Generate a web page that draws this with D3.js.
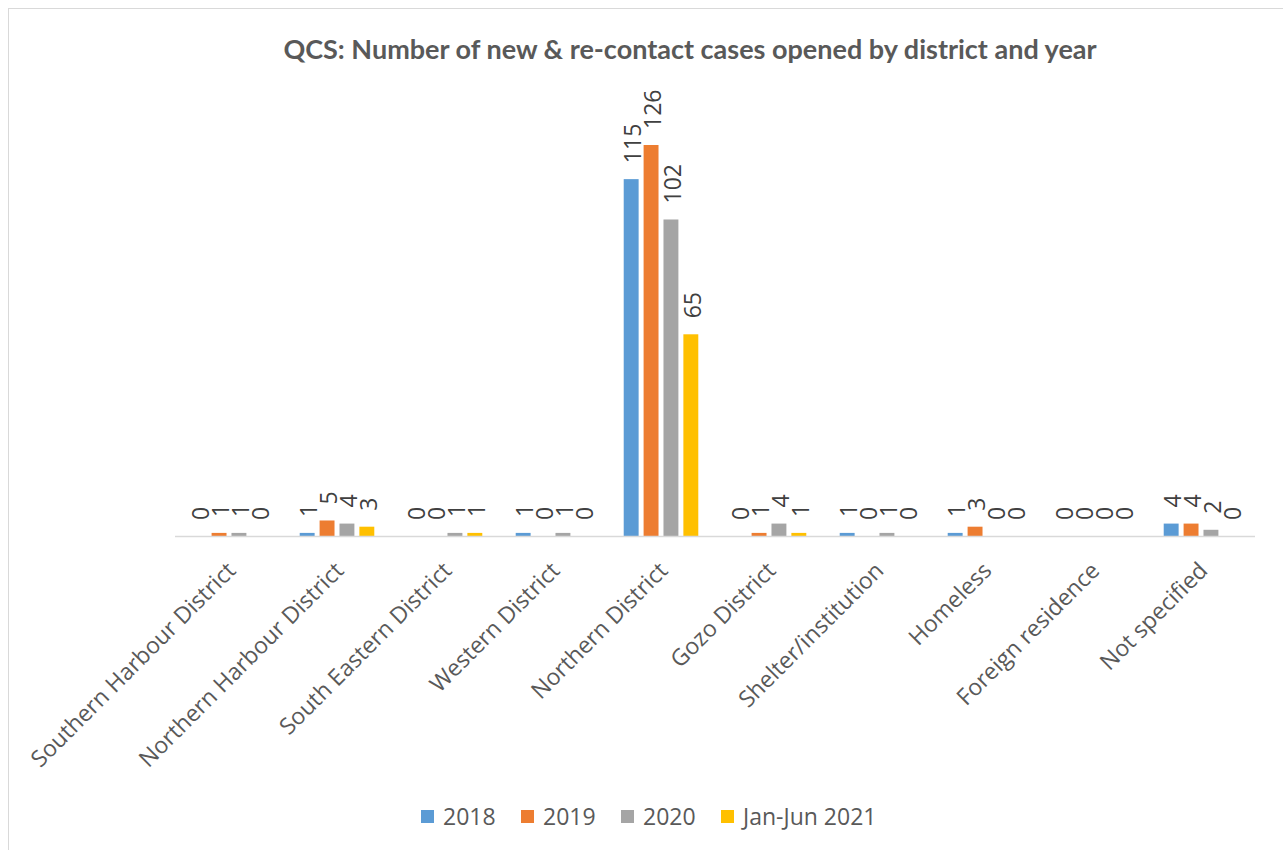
<!DOCTYPE html>
<html><head><meta charset="utf-8">
<script src="https://cdn.jsdelivr.net/npm/d3@7"></script>
<style>body{margin:0;background:#fff}svg{display:block}</style>
</head><body>
<script>
const categories = ["Southern Harbour District","Northern Harbour District","South Eastern District","Western District","Northern District","Gozo District","Shelter/institution","Homeless","Foreign residence","Not specified"];
const seriesNames = ["2018","2019","2020","Jan-Jun 2021"];
const v2018 = [0,1,0,1,115,0,1,1,0,4];
const v2019 = [1,5,0,0,126,1,0,3,0,4];
const v2020 = [1,4,1,1,102,4,1,0,0,2];
const v2021 = [0,3,1,0,65,1,0,0,0,0];
const colors = ["#5b9bd5","#ed7d31","#a5a5a5","#ffc000"];
const series = [v2018,v2019,v2020,v2021];

const W=1283,H=850;
const svg=d3.select("body").append("svg").attr("width",W).attr("height",H);
svg.append("rect").attr("x",8.5).attr("y",8.5).attr("width",W+20).attr("height",H).attr("fill","#fff").attr("stroke","#d9d9d9");
const tfont="Lato, 'Open Sans', sans-serif";
const font="'Open Sans', sans-serif";
svg.append("text").attr("x",690).attr("y",59).attr("text-anchor","middle").attr("font-family",tfont).attr("font-weight","bold").attr("font-size",27).attr("fill","#595959").text("QCS: Number of new & re-contact cases opened by district and year");

const x0=d3.scaleBand().domain(categories).range([175,1255]).paddingInner(0).paddingOuter(0);
const x1=d3.scaleBand().domain(seriesNames).range([0,x0.bandwidth()]).paddingInner(0.25).paddingOuter(0.84);
const y=d3.scaleLinear().domain([0,126]).range([536,145]);

const g=svg.append("g");
categories.forEach((c,i)=>{
  seriesNames.forEach((s,j)=>{
    const v=series[j][i];
    const bx=x0(c)+x1(s);
    g.append("rect").attr("x",bx).attr("y",y(v)).attr("width",x1.bandwidth()).attr("height",y(0)-y(v)).attr("fill",colors[j]);
    const cx=bx+x1.bandwidth()/2+10;
    const ty=y(v)-16;
    g.append("text").attr("transform",`translate(${cx},${ty}) rotate(-90)`).attr("font-family",font).attr("font-size",23).attr("fill","#404040").text(v);
  });
});
svg.append("line").attr("x1",175).attr("x2",1255).attr("y1",536.5).attr("y2",536.5).attr("stroke","#d9d9d9").attr("stroke-width",1.5);

categories.forEach(c=>{
  const cx=x0(c)+x0.bandwidth()/2+8;
  svg.append("text").attr("transform",`translate(${cx},572) rotate(-45)`).attr("text-anchor","end").attr("font-family",font).attr("font-size",23).attr("fill","#595959").text(c);
});

const legX=[421,521,621,721];
seriesNames.forEach((s,j)=>{
  svg.append("rect").attr("x",legX[j]).attr("y",810).attr("width",13).attr("height",13).attr("fill",colors[j]);
  svg.append("text").attr("x",legX[j]+22).attr("y",825).attr("font-family",font).attr("font-size",23).attr("fill","#595959").text(s);
});
</script>
</body></html>
